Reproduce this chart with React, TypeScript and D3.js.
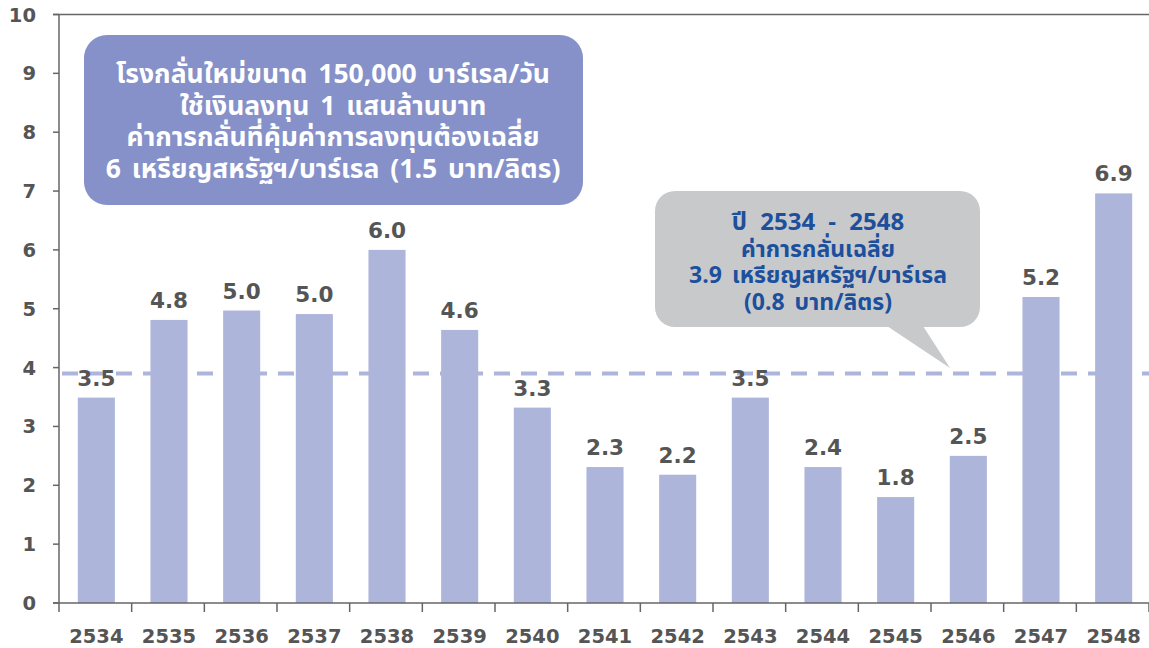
import * as d3 from "d3";

const years = ["2534", "2535", "2536", "2537", "2538", "2539", "2540", "2541", "2542", "2543", "2544", "2545", "2546", "2547", "2548"];
const costs = [3.49, 4.81, 4.97, 4.91, 6.0, 4.64, 3.32, 2.31, 2.18, 3.49, 2.31, 1.8, 2.5, 5.2, 6.96];
const costLabels = ["3.5", "4.8", "5.0", "5.0", "6.0", "4.6", "3.3", "2.3", "2.2", "3.5", "2.4", "1.8", "2.5", "5.2", "6.9"];
const yTicks = [0, 1, 2, 3, 4, 5, 6, 7, 8, 9, 10];
const average = 3.9;

const newPlantText = [
  "โรงกลั่นใหม่ขนาด 150,000 บาร์เรล/วัน",
  "ใช้เงินลงทุน 1 แสนล้านบาท",
  "ค่าการกลั่นที่คุ้มค่าการลงทุนต้องเฉลี่ย",
  "6 เหรียญสหรัฐฯ/บาร์เรล (1.5 บาท/ลิตร)",
];
const averageText = [
  "ปี 2534 - 2548",
  "ค่าการกลั่นเฉลี่ย",
  "3.9 เหรียญสหรัฐฯ/บาร์เรล",
  "(0.8 บาท/ลิตร)",
];

const W = 1149;
const H = 648;
const left = 59;
const right = 1149;
const top = 14.5;
const bottom = 603;

const num = "'DejaVu Sans', Verdana, sans-serif";
const thai = "'Noto Sans Thai', Tahoma, 'DejaVu Sans', sans-serif";

export default function App() {
  const x = d3.scaleBand<string>().domain(years).range([left, right]).paddingInner(0).paddingOuter(0);
  const y = d3.scaleLinear().domain([0, 10]).range([bottom, top]);
  const bw = x.bandwidth() * 0.51;
  const tail = d3.line()([[887, 326], [923, 326], [950, 368]]) + "Z";

  return (
    <svg width={W} height={H} style={{ position: "absolute", left: 0, top: 0 }}>
      {/* average line under the bars */}
      <line x1={left + 3} x2={right} y1={y(average)} y2={y(average)} stroke="#aeb5dc" strokeWidth={4} strokeDasharray="16,11" />

      {years.map((yr, i) => (
        <rect key={yr} x={x(yr)! + (x.bandwidth() - bw) / 2 + 1} y={y(costs[i])} width={bw} height={bottom - y(costs[i])} fill="#aeb5db" />
      ))}

      {years.map((yr, i) => (
        <text key={yr} x={x(yr)! + x.bandwidth() / 2 + 1} y={y(costs[i]) - 12} textAnchor="middle"
          fontFamily={num} fontWeight="bold" fontSize={21.5} fill="#555">{costLabels[i]}</text>
      ))}

      {/* axes */}
      <line x1={left - 6} x2={right} y1={top} y2={top} stroke="#666" strokeWidth={1.5} />
      <line x1={left} x2={left} y1={top} y2={bottom + 9} stroke="#666" strokeWidth={1.5} />
      <line x1={left - 6} x2={right} y1={bottom} y2={bottom} stroke="#666" strokeWidth={1.5} />
      {yTicks.map((t) => (
        <g key={t}>
          <line x1={left - 6} x2={left} y1={y(t)} y2={y(t)} stroke="#666" strokeWidth={1.5} />
          <text x={36} y={y(t) + 7} textAnchor="end" fontFamily={num} fontWeight="bold" fontSize={19.5} fill="#555">{t}</text>
        </g>
      ))}
      {years.map((yr) => (
        <g key={yr}>
          <line x1={x(yr)! + x.bandwidth()} x2={x(yr)! + x.bandwidth()} y1={bottom} y2={bottom + 9} stroke="#666" strokeWidth={1.5} />
          <text x={x(yr)! + x.bandwidth() / 2 + 1} y={643} textAnchor="middle" fontFamily={num} fontWeight="bold" fontSize={19.5} fill="#555">{yr}</text>
        </g>
      ))}

      {/* new refinery note */}
      <rect x={84} y={35} width={499} height={170} rx={23} fill="#8591c8" />
      {newPlantText.map((s, i) => (
        <text key={i} x={333} y={83 + i * 31.7} textAnchor="middle" fontFamily={thai} fontWeight="bold" fontSize={26.5} wordSpacing={4} fill="#fff">{s}</text>
      ))}

      {/* average callout */}
      <path d={tail} fill="#c8c9cb" />
      <rect x={655} y={191} width={325} height={136} rx={20} fill="#c8c9cb" />
      {averageText.map((s, i) => (
        <text key={i} x={818} y={230 + i * 26.7} textAnchor="middle" fontFamily={thai} fontWeight="bold" fontSize={i === 0 ? 24 : 23} wordSpacing={i === 0 ? 7 : 4} fill="#1c4f9c">{s}</text>
      ))}
    </svg>
  );
}
